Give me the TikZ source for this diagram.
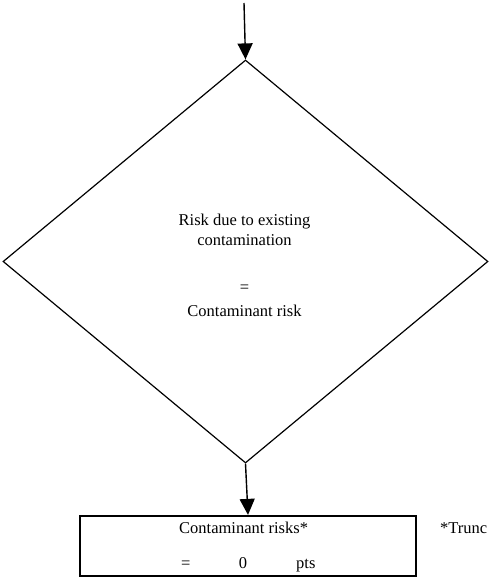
\documentclass[tikz,border=0pt]{standalone}
\usepackage{fontspec}
\setmainfont{Liberation Serif}
\usetikzlibrary{shapes.geometric,arrows.meta}
\begin{document}
\begin{tikzpicture}[x=1pt,y=-1pt,
  txt/.style={font=\fontsize{16.5}{20}\selectfont,inner sep=0pt,anchor=base},
  arr/.style={line width=1.4pt,-{Triangle[width=15pt,length=16pt]}},
  dia/.style={draw,diamond,line width=1.2pt,minimum width=485pt,minimum height=403pt,inner sep=0pt},
  resbox/.style={draw,rectangle,line width=2.2pt,minimum width=336pt,minimum height=60pt,inner sep=0pt}]
\useasboundingbox (0,0) rectangle (492,578);
\coordinate (start) at (244,3);
\node[dia] (d) at (245.5,261.5) {};
\node[resbox] (b) at (248,546) {};
\draw[arr] (start) -- (d.north);
\draw[arr] (d.south) -- (b.north);
\node[txt] (t1) at (244.5,225) {Risk due to existing};
\node[txt] (t2) at (244.5,245) {contamination};
\node[txt] (t3) at (244.5,292) {=};
\node[txt] (t4) at (244.5,316) {Contaminant risk};
\node[txt,anchor=base west] (b1) at (179,533) {Contaminant risks*};
\node[txt,anchor=base west] (b2) at (181,568) {=};
\node[txt] (b3) at (243,568) {0};
\node[txt,anchor=base west] (b4) at (296,568) {pts};
\node[txt,anchor=base west] (tr) at (440,533) {*Trunc};
\end{tikzpicture}
\end{document}
